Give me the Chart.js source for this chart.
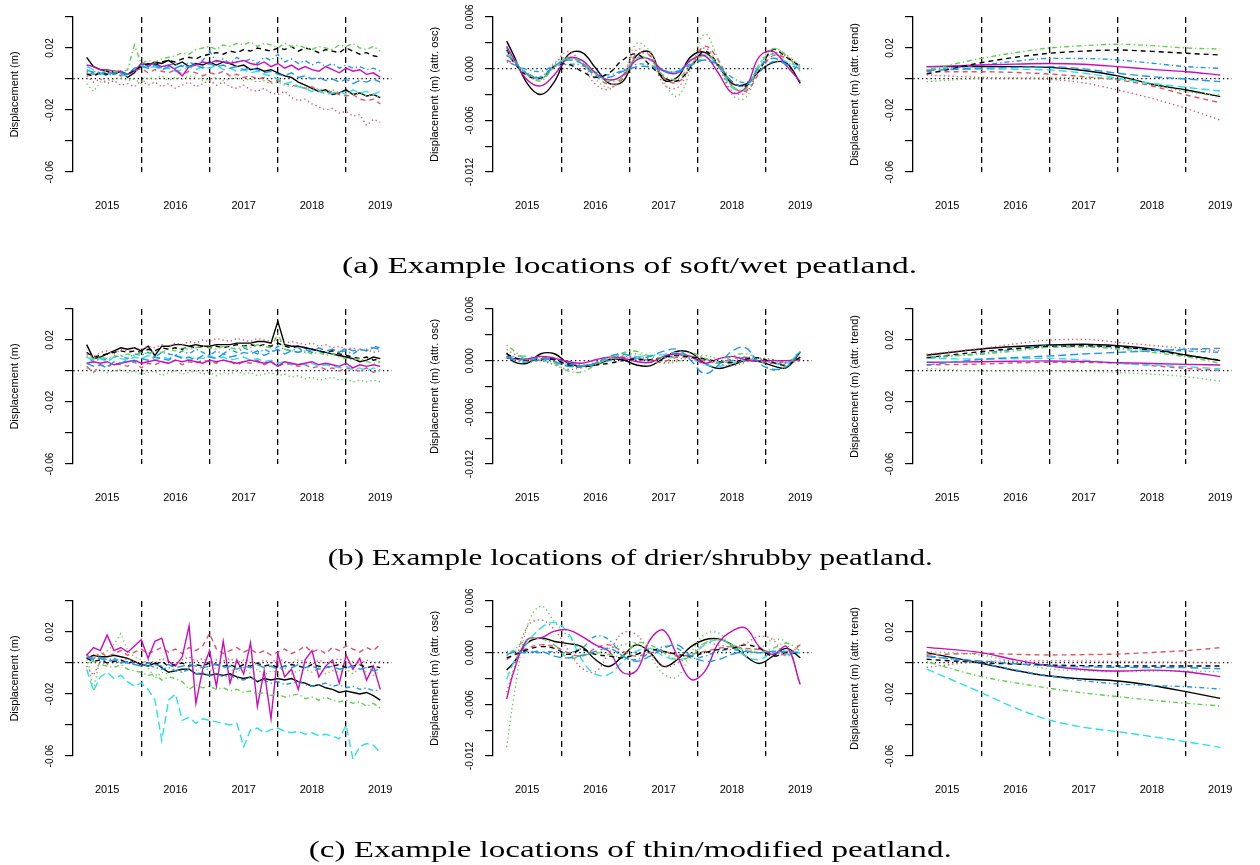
<!DOCTYPE html>
<html>
<head>
<meta charset="utf-8">
<title>Example peatland displacement series</title>
<script src="https://cdn.jsdelivr.net/npm/chart.js"></script>
<style>
    body {
        margin: 0;
        background: #fff;
    }
    #figure {
        position: relative;
        width: 1260px;
        height: 865px;
        overflow: hidden;
        background: #fff;
    }
    .panel {
        position: absolute;
    }
    .caption {
        position: absolute;
        left: 0;
        width: 1260px;
        text-align: center;
        font-family: 'Liberation Serif', 'DejaVu Serif', serif;
        font-size: 24px;
        line-height: 30px;
        color: #000;
    }
    .caption span {
        display: inline-block;
        white-space: nowrap;
        transform-origin: 50% 50%;
    }
</style>
</head>
<body>
<div id="figure"></div>
<script>
// time axes (decimal years)
const rawTimes = [2014.7, 2014.8, 2014.9, 2015.0, 2015.1, 2015.2, 2015.3, 2015.4, 2015.5, 2015.6,
    2015.7, 2015.8, 2015.9, 2016.0, 2016.1, 2016.2, 2016.3, 2016.4, 2016.5, 2016.6,
    2016.7, 2016.8, 2016.9, 2017.0, 2017.1, 2017.2, 2017.3, 2017.4, 2017.5, 2017.6,
    2017.7, 2017.8, 2017.9, 2018.0, 2018.1, 2018.2, 2018.3, 2018.4, 2018.5, 2018.6,
    2018.7, 2018.8, 2018.9, 2019.0];
const oscTimes = [2014.7, 2014.8, 2015.0, 2015.2, 2015.4, 2015.6, 2015.8, 2016.0, 2016.2, 2016.4,
    2016.6, 2016.8, 2017.0, 2017.2, 2017.4, 2017.6, 2017.8, 2018.0, 2018.2, 2018.4,
    2018.6, 2018.8, 2019.0];
const trendTimes = [2014.7, 2015.5, 2016.0, 2016.5, 2017.0, 2017.5, 2018.0, 2018.5, 2019.0];

// tick labels
const yearTicks = [2015, 2015.5, 2016, 2016.5, 2017, 2017.5, 2018, 2018.5, 2019];
const yearLabels = ['2015', '', '2016', '', '2017', '', '2018', '', '2019'];
const yearBreaks = [2015.5, 2016.5, 2017.5, 2018.5];
const dispTicks = [-60, -40, -20, 0, 20, 40];            // mm
const dispTickLabels = ['-0.06', '', '-0.02', '', '0.02', ''];
const oscTicks = [-12, -9, -6, -3, 0, 3, 6];             // mm
const oscTickLabels = ['-0.012', '', '-0.006', '', '0.000', '', '0.006'];

// row (a) soft/wet peatland, displacement in mm
const r1Black = [14, 8, 6, 5, 3, 5, 1, 4, 10, 9, 11, 10, 12, 9, 11, 8, 10, 9, 11, 9, 11, 10, 8, 9, 6, 7, 5, 6, 4, 2, 1, -2, -4, -6, -8, -7, -10, -9, -7, -10, -9, -11, -10, -12];
const r1RedDash = [4, 2, 5, 3, 4, 2, 3, 5, 7, 4, 6, 5, 4, 6, 3, 5, 4, 2, 4, 3, 5, 2, 3, 1, 2, 0, 1, -2, -1, -3, -4, -5, -6, -5, -8, -9, -8, -10, -11, -10, -13, -14, -13, -16];
const r1GreenDot = [-3, -8, -2, -1, 0, 1, -1, 0, -3, 1, 0, 2, -1, 1, 0, 2, 1, -1, 0, 1, -1, 0, 1, -1, 0, -2, -1, -3, -2, -4, -5, -4, -6, -7, -6, -8, -7, -9, -8, -10, -9, -11, -10, -12];
const r1BlueDotdash = [5, 3, 4, 2, 4, 5, 3, 6, 9, 8, 10, 7, 9, 10, 8, 11, 9, 12, 18, 11, 13, 10, 14, 11, 13, 10, 14, 12, 16, 11, 13, 10, 12, 9, 11, 8, 10, 7, 9, 7, 8, 6, 7, 5];
const r1Cyan = [8, 6, 4, 3, 5, 3, 2, 6, 9, 7, 8, 6, 7, 5, 6, 8, 6, 8, 7, 9, 6, 7, 5, 6, 4, 5, 3, 2, 0, -3, -2, -5, -6, -8, -7, -10, -9, -8, -10, -7, -9, -8, -10, -8];
const r1Magenta = [9, 8, 6, 6, 5, 5, 3, 5, 10, 9, 10, 8, 9, 6, 2, 8, 9, 11, 10, 12, 11, 10, 11, 12, 10, 9, 11, 8, 10, 7, 9, 6, 8, 6, 5, 8, 6, 4, 7, 5, 6, 3, 4, 1];
const r1BlackDash = [3, 2, 4, 3, 5, 4, 3, 6, 8, 10, 9, 11, 12, 11, 13, 14, 13, 15, 16, 17, 16, 18, 17, 19, 18, 20, 19, 18, 20, 19, 21, 18, 20, 19, 17, 19, 18, 17, 20, 18, 16, 17, 15, 14];
const r1RedDot = [2, -2, 0, -3, -1, -4, -3, -5, -1, -4, -2, -5, -3, -6, -4, -2, -5, -3, -1, -4, -2, -5, -6, -4, -7, -8, -6, -9, -10, -8, -12, -14, -13, -16, -18, -20, -19, -22, -21, -24, -23, -30, -26, -28];
const r1GreenDotdash = [4, 5, 3, 6, 5, 4, 6, 22, 10, 12, 11, 13, 14, 15, 17, 16, 19, 20, 21, 19, 22, 21, 23, 22, 24, 21, 23, 22, 20, 23, 21, 22, 20, 19, 21, 20, 19, 22, 21, 23, 20, 19, 21, 18];
const r1BlueLong = [6, 4, 3, 5, 3, 4, 3, 7, 8, 7, 9, 6, 8, 7, 9, 8, 9, 7, 10, 8, 9, 7, 8, 6, 7, 6, 4, 5, 3, 2, 4, 1, 2, 0, 1, -1, 0, -2, 0, -3, -1, -2, 0, -2];

const o1Black = [3.2, 1.6, -1.7, -3.0, -1.5, 1.6, 1.9, 0.1, -1.7, -1.5, 1.5, 1.9, -1.3, -1.0, 1.4, 1.9, 0.3, -1.7, -1.8, -0.3, 0.7, 0.65, -1.7];
const o1RedDash = [1.0, 0.6, -0.5, -1.1, 0.2, 1.3, 0.7, -0.8, -1.8, -1.2, 1.7, 1.5, -1.0, -1.6, 0.3, 2.6, 1.0, -2.0, -2.6, -0.5, 1.5, 1.2, 0.2];
const o1GreenDot = [2.5, 1.0, -0.5, -0.9, 0.7, 1.3, 0.5, -1.2, -2.2, -1.0, 2.9, 2.0, -1.5, -3.2, 0.0, 4.0, 1.0, -3.0, -3.4, 0.5, 2.3, 1.6, 0.2];
const o1BlueDotdash = [0.8, 0.5, -0.1, -0.3, 0.3, 0.5, 0.4, -0.4, -0.7, -0.2, 0.5, 0.4, -0.2, -0.3, 0.6, 1.0, 0.3, -1.0, -1.6, -0.3, 0.8, 0.6, 0.4];
const o1Cyan = [2.4, 1.2, -0.6, -1.2, 0.3, 1.2, 1.0, -0.5, -1.3, -0.8, 1.2, 1.0, -0.2, -0.3, 1.0, 1.6, 0.4, -2.2, -2.3, 0.5, 1.7, 0.8, 0.3];
const o1Magenta = [2.6, 1.2, -1.3, -2.0, -0.7, 1.2, 1.0, -0.5, -1.3, -0.8, 1.0, 1.1, -0.3, -0.5, 1.0, 1.5, -0.5, -2.8, -2.2, 1.4, 2.0, 0.3, -1.5];
const o1BlackDash = [2.2, 0.8, -0.8, -1.1, 0.3, 0.5, -0.3, -1.0, -0.5, 1.0, 1.7, 0.4, -1.0, -1.4, 0.2, 2.0, 0.5, -1.5, -2.0, -0.2, 2.2, 1.3, 0.3];
const o1RedDot = [1.5, 0.8, -0.8, -1.2, 0.5, 2.0, 0.5, -1.8, -2.4, -0.8, 2.2, 1.5, -1.8, -2.2, 0.3, 2.4, 0.3, -2.6, -2.8, 0.0, 1.8, 1.4, 0.4];
const o1GreenDotdash = [2.0, 1.0, -0.7, -1.4, 0.2, 1.2, 0.8, -0.6, -1.5, -1.0, 1.3, 1.0, -0.8, -1.2, 0.5, 1.5, 0.5, -2.0, -2.4, 0.2, 2.3, 1.5, -0.3];
const o1BlueLong = [1.6, 0.9, -0.6, -1.0, 0.3, 1.0, 0.6, -0.8, -1.0, -0.3, 0.2, 0.2, -0.3, -0.4, 0.4, 1.0, 0.4, -1.5, -2.0, 0.2, 1.2, 0.5, 0.0];

const t1Black = [8.0, 8.0, 8.0, 7.5, 5.5, 2.0, -3.4, -7.1, -11.4];
const t1RedDash = [4.7, 4.7, 4.2, 3.2, 1.5, -0.6, -4.5, -10.3, -15.3];
const t1GreenDot = [-1.7, 0.4, 0.8, 1.0, 0.8, -0.2, -3.5, -8.2, -10.3];
const t1BlueDotdash = [5.8, 9.0, 11.5, 13.3, 13.2, 12.3, 10.2, 8.0, 6.9];
const t1Cyan = [6.0, 6.5, 6.3, 5.8, 3.8, 0.4, -2.8, -5.4, -7.7];
const t1Magenta = [8.0, 9.0, 9.6, 10.0, 9.5, 8.0, 6.2, 4.7, 2.6];
const t1BlackDash = [3.2, 10.5, 14.0, 16.6, 18.0, 18.7, 17.8, 16.6, 15.5];
const t1RedDot = [2.6, 1.0, 0.5, -0.2, -2.5, -7.1, -12.5, -19.0, -26.5];
const t1GreenDotdash = [5.8, 13.3, 17.0, 20.0, 21.5, 22.4, 21.5, 20.0, 19.4];
const t1BlueLong = [5.4, 6.9, 7.5, 8.0, 6.5, 3.7, 1.5, 0.0, -1.7];

// row (b) drier/shrubby peatland
const r2Black = [17, 8, 9, 11, 13, 15, 14, 15, 13, 16, 10, 16, 16, 17, 17, 16, 17, 16, 16, 17, 17, 17, 18, 18, 18, 19, 19, 18, 32, 17, 16, 16, 15, 14, 13, 12, 11, 10, 9, 8, 6, 7, 9, 8];
const r2RedDash = [3, -1, 4, 3, 5, 4, 3, 6, 2, 5, 4, 6, 5, 7, 4, 6, 5, 7, 6, 5, 7, 6, 4, 6, 5, 7, 4, 6, 3, 5, 4, 3, 4, 2, 3, 1, 2, 0, 2, 1, 0, 2, -1, 1];
const r2GreenDot = [2, 0, 1, -1, 0, 1, -1, 0, -2, -1, 0, -3, -1, 0, -2, -1, 0, -2, -1, -3, -1, -2, 0, -2, -1, -3, -2, -1, -3, -2, -4, -3, -5, -4, -6, -5, -4, -6, -5, -7, -6, -7, -6, -7];
const r2BlueDotdash = [9, 6, 8, 7, 9, 10, 8, 11, 10, 12, 9, 12, 11, 10, 13, 11, 14, 12, 10, 13, 11, 14, 12, 15, 13, 11, 14, 12, 16, 14, 13, 15, 12, 14, 13, 11, 14, 12, 13, 11, 14, 13, 16, 15];
const r2Cyan = [9, 7, 8, 6, 9, 8, 7, 9, 8, 10, 7, 9, 8, 10, 9, 7, 9, 8, 10, 8, 9, 7, 8, 9, 7, 8, 6, 7, 5, 6, 4, 5, 4, 5, 3, 4, 3, 2, 3, 1, 2, 0, 2, 0];
const r2Magenta = [5, 6, 5, 6, 4, 5, 6, 7, 5, 6, 7, 6, 5, 7, 6, 7, 6, 5, 7, 6, 7, 6, 5, 6, 7, 6, 5, 6, 3, 6, 5, 4, 5, 6, 4, 5, 4, 3, 5, 2, 4, 3, 4, 3];
const r2BlackDash = [12, 9, 10, 11, 12, 13, 12, 13, 12, 14, 13, 15, 14, 15, 14, 16, 15, 16, 15, 16, 15, 16, 17, 16, 17, 16, 17, 16, 18, 16, 15, 16, 15, 14, 13, 12, 13, 11, 10, 9, 8, 9, 7, 8];
const r2RedDot = [11, 9, 12, 13, 11, 14, 13, 15, 14, 16, 15, 17, 16, 18, 17, 19, 18, 20, 19, 21, 20, 19, 21, 20, 19, 21, 20, 19, 20, 18, 19, 18, 17, 18, 16, 17, 15, 16, 14, 15, 13, 14, 12, 13];
const r2GreenDotdash = [10, 8, 9, 8, 10, 9, 11, 10, 12, 11, 13, 12, 14, 13, 15, 14, 15, 16, 15, 14, 16, 15, 14, 16, 15, 17, 16, 15, 24, 14, 13, 12, 13, 11, 12, 10, 11, 9, 8, 7, 8, 6, 5, 6];
const r2BlueLong = [5, 3, 4, 2, 6, 5, 7, 6, 8, 7, 9, 8, 7, 10, 8, 9, 7, 10, 9, 8, 11, 9, 10, 12, 11, 13, 10, 12, 14, 11, 13, 12, 14, 12, 15, 13, 14, 12, 15, 13, 14, 13, 15, 14];

const o2Black = [0.9, -0.1, -0.3, 0.8, 0.8, -0.3, -0.65, -0.5, 0.1, 0.1, -0.5, -0.6, 0.3, 1.1, 0.9, -0.3, -0.9, -0.5, 0.0, -0.1, -0.6, -0.8, 1.0];
const o2RedDash = [0.5, 0.3, 0.1, 0.4, 0.2, -0.5, -0.6, -0.3, 0.2, 0.4, 0.2, -0.2, -0.1, 0.4, 0.3, 0.0, -0.3, 0.2, 0.4, 0.0, -0.3, -0.1, 0.3];
const o2GreenDot = [0.5, 0.2, -0.1, 0.2, 0.3, -0.4, -0.8, -0.3, 0.2, 0.6, 0.8, 0.3, -0.3, -0.1, 0.4, 0.6, 0.2, -0.3, -0.1, 0.2, 0.1, -0.2, 0.0];
const o2BlueDotdash = [0.4, 0.1, -0.2, 0.1, 0.2, -0.2, -0.5, -0.4, 0.0, 0.3, 0.2, 0.1, 0.3, 0.6, 0.5, 0.2, -0.2, 0.0, 0.4, 0.2, -0.2, -0.3, 0.4];
const o2Cyan = [0.3, 0.5, 0.5, 0.1, -0.3, -0.45, -0.65, -0.4, 0.3, 0.7, 0.5, 0.6, 0.7, 0.9, 0.3, -0.45, -0.65, -0.3, 0.1, 0.3, -0.3, -0.3, 1.1];
const o2Magenta = [0.3, 0.25, 0.2, 0.5, 0.3, -0.1, -0.3, 0.1, 0.4, 0.3, -0.1, -0.2, 0.5, 0.8, 0.5, -0.3, 0.2, 0.5, 0.1, 0.0, 0.0, 0.0, 0.1];
const o2BlackDash = [0.8, 0.4, 0.0, 0.2, 0.1, -0.5, -0.7, -0.5, -0.3, 0.0, 0.2, 0.1, 0.4, 0.6, 0.4, 0.2, -0.1, -0.2, 0.2, 0.3, -0.2, -0.5, 0.4];
const o2RedDot = [1.3, 0.8, 0.2, 0.0, -0.5, -1.0, -0.8, -0.2, 0.3, 0.5, 0.4, 0.2, -0.2, 0.1, 0.5, 0.3, -0.3, -0.6, -0.2, 0.3, 0.1, -0.2, 0.0];
const o2GreenDotdash = [1.8, 1.2, 0.1, 0.3, -0.3, -1.2, -1.3, -0.5, 0.3, 0.9, 1.1, 0.5, 0.3, 0.5, 0.9, 0.3, -0.3, 0.5, 0.8, 0.1, -1.1, -0.5, 1.1];
const o2BlueLong = [0.5, 0.2, 0.1, 0.3, -0.1, -0.65, -0.65, -0.3, 0.5, 0.8, 0.3, 0.5, 1.1, 1.3, 0.0, -1.5, -0.5, 1.1, 1.5, -0.3, -1.0, -0.7, 1.1];

const t2Black = [10.3, 14.2, 15.8, 16.8, 17.3, 16.3, 14.2, 10.3, 6.7];
const t2RedDash = [3.9, 4.5, 5.2, 5.6, 5.5, 5.0, 3.5, 1.7, 0.4];
const t2GreenDot = [1.7, 0.0, 0.0, 0.0, -0.3, -0.9, -2.0, -3.7, -6.5];
const t2BlueDotdash = [8.2, 11.4, 14.0, 16.3, 16.0, 15.0, 14.0, 12.9, 12.0];
const t2Cyan = [8.2, 7.7, 8.0, 8.2, 7.0, 5.0, 3.8, 2.8, 1.3];
const t2Magenta = [5.6, 6.0, 6.3, 6.5, 6.2, 5.4, 4.8, 4.3, 3.9];
const t2BlackDash = [8.6, 12.5, 14.5, 15.8, 16.2, 15.5, 13.5, 10.0, 7.0];
const t2RedDot = [10.8, 14.6, 17.5, 20.0, 20.4, 18.5, 16.5, 14.6, 12.9];
const t2GreenDotdash = [9.2, 10.8, 13.0, 15.3, 15.5, 14.2, 12.0, 9.2, 5.0];
const t2BlueLong = [3.9, 7.5, 8.7, 9.7, 11.0, 12.0, 13.0, 14.0, 14.6];

// row (c) thin/modified peatland
const r3Black = [3, 5, 4, 4, 5, 4, 3, 1, -1, -2, 0, -3, -6, -5, -4, -4, -7, -7, -8, -7, -8, -7, -9, -10, -9, -12, -10, -11, -10, -11, -10, -12, -13, -15, -14, -16, -17, -19, -18, -19, -20, -19, -21, -24];
const r3RedDash = [5, 3, 7, 4, 6, 8, 5, 7, 9, 6, 8, 10, 7, 9, 6, 10, 8, 11, 19, 9, 6, 8, 10, 7, 9, 6, 8, 5, 7, 9, 6, 8, 11, 7, 9, 6, 10, 8, 11, 9, 7, 10, 8, 12];
const r3GreenDot = [6, -18, 5, 8, 12, 19, 8, 4, 2, -3, -10, -6, -7, -4, -6, -3, -5, -2, -5, -3, 2, -4, -6, -3, -7, -4, -8, -5, -6, -3, -7, -5, -4, -6, -3, -7, -5, -6, -4, -7, -3, -6, -8, -5];
const r3BlueDotdash = [5, 3, 4, 2, 3, 1, 0, -1, -2, -1, -3, -4, -3, -5, -6, -4, -7, -6, -8, -7, -9, -8, -10, -11, -9, -12, -11, -13, -12, -14, -13, -12, -14, -15, -14, -13, -15, -14, -16, -15, -17, -16, -18, -17];
const r3Cyan = [-4, -18, -9, -6, -10, -8, -12, -15, -13, -17, -24, -50, -24, -20, -37, -35, -39, -36, -37, -38, -39, -40, -39, -54, -43, -42, -45, -43, -42, -44, -45, -44, -46, -45, -47, -46, -47, -49, -40, -62, -54, -52, -53, -58];
const r3Magenta = [5, 10, 8, 18, 8, 10, 7, 11, 15, 3, 14, 16, 1, -2, 4, 24, -26, -4, 8, -15, 14, -13, 2, -7, 13, -28, -5, -36, 6, -9, -4, -17, 2, 8, -9, -2, 2, -13, 5, -4, 3, -11, -2, -17];
const r3BlackDash = [3, 1, 2, 0, 1, 2, 0, 1, -1, 0, -1, 1, -2, -1, 0, -2, -1, -2, 0, -1, -2, -1, -3, -1, -2, 0, -2, -1, -3, -2, -1, -2, -3, -1, -2, -3, -2, -1, -3, -2, -1, -3, -2, -3];
const r3RedDot = [-2, -8, 1, -1, 2, 0, 3, 1, -1, 2, 0, 3, 1, -1, 2, 4, 1, 3, 0, 2, 1, 3, 0, 2, 1, -1, 2, 0, 3, 1, 0, 2, 1, -1, 2, 0, 1, 3, 0, 1, -1, 2, 0, 1];
const r3GreenDotdash = [2, 1, -1, -2, -3, -1, -4, -5, -6, -8, -7, -11, -9, -10, -12, -17, -14, -16, -15, -17, -16, -18, -17, -19, -18, -20, -19, -21, -20, -22, -21, -20, -23, -22, -24, -22, -24, -25, -24, -26, -25, -28, -26, -29];
const r3BlueLong = [4, 2, 3, 1, 2, 0, 1, -1, -2, 0, -1, -2, -1, -3, -2, -1, -2, -3, -2, -1, -3, -2, -4, -2, -3, -1, -3, -2, -4, -2, -3, -1, -3, -2, -4, -3, -2, -4, -3, -2, -4, -3, -5, -4];

const o3Black = [-2.0, -1.2, 1.1, 1.7, 1.3, 1.05, 0.7, -0.8, -1.6, -0.4, 0.9, 0.0, -1.6, -0.8, 0.7, 1.5, 1.6, 0.9, -0.4, -1.25, -0.4, 0.5, -0.6];
const o3RedDash = [-0.8, -0.3, 0.5, 0.9, 0.7, 0.0, -0.4, 0.5, 0.9, 0.15, -0.4, 0.0, 0.15, -0.4, -0.2, 0.15, 0.5, 0.7, 0.5, 0.35, 0.0, -0.2, 0.9];
const o3GreenDot = [-11, -5.4, 3.0, 5.4, 3.6, 1.9, 0.35, 0.0, 0.5, 0.9, 1.1, -0.4, -2.5, -2.8, 0.0, 2.1, 2.3, 0.7, 0.3, 0.5, 1.5, 1.1, -3.9];
const o3BlueDotdash = [0.15, 0.15, 0.15, 0.0, 0.15, 0.0, 0.5, 1.9, 1.5, -0.4, -0.8, 0.0, 0.7, 0.5, -0.6, -0.4, 0.15, 0.35, 0.15, 0.0, 0.15, 0.15, 0.0];
const o3Cyan = [-3.1, -1.2, 1.1, 2.85, 3.5, 2.3, -0.8, -2.5, -2.5, -1.0, 0.15, 0.5, -0.4, -0.8, -0.4, 0.9, 1.5, 0.9, -0.4, -0.8, 0.0, -0.2, 0.0];
const o3Magenta = [-5.4, -2.3, 1.5, 1.7, 2.5, 2.65, 1.9, 0.9, 0.15, -2.3, -2.1, 1.5, 2.6, -0.4, -3.1, -2.2, 1.1, 2.5, 2.85, 0.7, -0.2, 0.7, -3.7];
const o3BlackDash = [-0.6, -0.3, 0.35, 0.7, 0.5, -0.2, 0.35, -0.2, -0.4, -0.6, -0.2, 0.35, 0.15, -0.2, -0.4, 0.0, 0.35, 0.5, 0.9, 0.5, -0.4, 0.0, -0.2];
const o3RedDot = [-4.6, -2.0, 3.0, 3.8, 2.65, 0.35, -1.8, -2.2, 0.0, 2.3, 2.1, 0.0, -1.6, -1.2, -0.2, 1.1, 0.9, 0.7, 1.1, 1.9, 1.5, -0.4, 1.1];
const o3GreenDotdash = [-0.4, 0.3, 1.5, 1.6, 0.9, -0.6, -0.4, 0.0, -0.2, -0.4, 1.1, 0.9, 0.0, -0.8, -0.4, 1.1, 1.5, 0.9, 0.3, 0.0, 0.5, 1.1, 0.2];
const o3BlueLong = [-0.2, 0.0, 0.0, 0.15, -0.4, -0.6, -0.3, 0.15, 0.5, -0.4, -1.0, -0.4, 0.5, 0.9, -0.4, -1.0, -0.8, -0.2, 0.15, 0.0, 0.15, 0.1, 0.0];

const t3Black = [6.7, -0.2, -4.8, -8.4, -10.3, -11.6, -14.5, -18.5, -22.8];
const t3RedDash = [5.2, 6.2, 5.6, 5.2, 5.4, 5.8, 6.8, 8.0, 9.9];
const t3GreenDot = [7.3, 5.2, 0.5, -3.9, -5.0, -5.6, -5.3, -5.2, -5.6];
const t3BlueDotdash = [4.7, -0.2, -4.5, -8.4, -11.5, -13.5, -14.5, -15.3, -16.8];
const t3Cyan = [-3.9, -19.1, -29.0, -36.8, -41.5, -44.3, -47.5, -50.8, -54.4];
const t3Magenta = [10.1, 6.7, 2.0, -1.9, -4.2, -5.2, -4.6, -5.6, -8.8];
const t3BlackDash = [2.4, 0.2, -0.7, -1.3, -1.7, -1.9, -1.9, -1.9, -1.9];
const t3RedDot = [-2.8, 0.9, 1.3, 1.5, 1.3, 1.0, 0.7, 0.5, 0.2];
const t3GreenDotdash = [0.9, -8.8, -12.8, -16.3, -19.3, -21.7, -24.0, -26.0, -27.7];
const t3BlueLong = [4.1, 1.3, -0.5, -1.9, -2.5, -2.8, -2.9, -3.0, -3.7];

const captions = [
    '(a) Example locations of soft/wet peatland.',
    '(b) Example locations of drier/shrubby peatland.',
    '(c) Example locations of thin/modified peatland.'
];

// matplot style cycle: col 1:6, lty 1:5
const seriesColors = ['#000000', '#DF536B', '#61D04F', '#2297E6', '#28E2E5', '#CD0BBC', '#000000', '#DF536B', '#61D04F', '#2297E6'];
const seriesDashes = [[], [5, 4], [1.3, 3], [1.3, 3, 5, 3], [8, 4], [], [5, 4], [1.3, 3], [1.3, 3, 5, 3], [8, 4]];

const rows = [
    {
        raw: [r1Black, r1RedDash, r1GreenDot, r1BlueDotdash, r1Cyan, r1Magenta, r1BlackDash, r1RedDot, r1GreenDotdash, r1BlueLong],
        osc: [o1Black, o1RedDash, o1GreenDot, o1BlueDotdash, o1Cyan, o1Magenta, o1BlackDash, o1RedDot, o1GreenDotdash, o1BlueLong],
        trend: [t1Black, t1RedDash, t1GreenDot, t1BlueDotdash, t1Cyan, t1Magenta, t1BlackDash, t1RedDot, t1GreenDotdash, t1BlueLong]
    },
    {
        raw: [r2Black, r2RedDash, r2GreenDot, r2BlueDotdash, r2Cyan, r2Magenta, r2BlackDash, r2RedDot, r2GreenDotdash, r2BlueLong],
        osc: [o2Black, o2RedDash, o2GreenDot, o2BlueDotdash, o2Cyan, o2Magenta, o2BlackDash, o2RedDot, o2GreenDotdash, o2BlueLong],
        trend: [t2Black, t2RedDash, t2GreenDot, t2BlueDotdash, t2Cyan, t2Magenta, t2BlackDash, t2RedDot, t2GreenDotdash, t2BlueLong]
    },
    {
        raw: [r3Black, r3RedDash, r3GreenDot, r3BlueDotdash, r3Cyan, r3Magenta, r3BlackDash, r3RedDot, r3GreenDotdash, r3BlueLong],
        osc: [o3Black, o3RedDash, o3GreenDot, o3BlueDotdash, o3Cyan, o3Magenta, o3BlackDash, o3RedDot, o3GreenDotdash, o3BlueLong],
        trend: [t3Black, t3RedDash, t3GreenDot, t3BlueDotdash, t3Cyan, t3Magenta, t3BlackDash, t3RedDot, t3GreenDotdash, t3BlueLong]
    }
];

const panelWidth = 420;
const panelHeight = 292;
const figure = document.getElementById('figure');

Chart.defaults.font.family = "'Liberation Sans', Arial, Helvetica, sans-serif";
Chart.defaults.color = '#000';

function createPanel(row, col, kind, times, series) {
    const canvas = document.createElement('canvas');
    canvas.width = panelWidth;
    canvas.height = panelHeight;
    canvas.className = 'panel';
    canvas.style.left = (col * panelWidth) + 'px';
    canvas.style.top = (row * panelHeight) + 'px';
    figure.appendChild(canvas);

    const isOsc = kind === 'osc';
    const yTicks = isOsc ? oscTicks : dispTicks;
    const yTickLabels = isOsc ? oscTickLabels : dispTickLabels;
    const yTitle = {
        raw: 'Displacement (m)',
        osc: 'Displacement (m) (attr. osc)',
        trend: 'Displacement (m) (attr. trend)'
    }[kind];

    // first column drawn first, so reverse (Chart.js paints dataset 0 on top)
    const datasets = series.map((values, i) => ({
        data: values.map((v, j) => ({ x: times[j], y: v })),
        borderColor: seriesColors[i],
        borderDash: seriesDashes[i],
        borderWidth: 1.4,
        pointRadius: 0,
        fill: false,
        tension: kind === 'raw' ? 0 : 0.4,
        cubicInterpolationMode: kind === 'trend' ? 'monotone' : 'default',
        clip: 12
    })).reverse();

    new Chart(canvas, {
        type: 'line',
        data: { datasets: datasets },
        options: {
            responsive: false,
            animation: false,
            events: [],
            layout: { padding: { top: 17, right: 14, bottom: 0, left: 0 } },
            plugins: {
                legend: { display: false },
                tooltip: { enabled: false }
            },
            scales: {
                x: {
                    type: 'linear',
                    min: 2014.5,
                    max: 2019.17,
                    afterBuildTicks: scale => { scale.ticks = yearTicks.map(v => ({ value: v })); },
                    afterFit: scale => { scale.height = 120; },
                    border: { display: false, dash: [6, 4] },
                    grid: {
                        color: ctx => (ctx.tick && yearBreaks.includes(ctx.tick.value)) ? '#000' : 'rgba(0,0,0,0)',
                        lineWidth: 1.3,
                        drawTicks: false
                    },
                    ticks: {
                        autoSkip: false,
                        maxRotation: 0,
                        padding: 27,
                        color: '#000',
                        font: { size: 11 },
                        callback: (value, index) => yearLabels[index]
                    }
                },
                y: {
                    min: isOsc ? -12 : -60,
                    max: isOsc ? 6 : 40,
                    afterBuildTicks: scale => { scale.ticks = yTicks.map(v => ({ value: v })); },
                    afterFit: scale => { scale.width = 73; },
                    border: {
                        display: true,
                        color: '#000',
                        width: 1.3,
                        dash: ctx => ctx.type === 'tick' ? [1.3, 3] : []
                    },
                    grid: {
                        color: ctx => (ctx.tick && ctx.tick.value === 0) ? '#000' : 'rgba(0,0,0,0)',
                        lineWidth: 1.2,
                        tickColor: '#000',
                        tickWidth: 1.2,
                        tickLength: 8
                    },
                    ticks: {
                        autoSkip: false,
                        minRotation: 90,
                        maxRotation: 90,
                        crossAlign: 'center',
                        padding: isOsc ? 1 : 3,
                        color: '#000',
                        font: { size: 10 },
                        callback: (value, index) => yTickLabels[index]
                    },
                    title: {
                        display: true,
                        text: yTitle,
                        color: '#000',
                        font: { size: 11 },
                        padding: { top: 8, bottom: 0 }
                    }
                }
            }
        }
    });
}

rows.forEach((row, r) => {
    createPanel(r, 0, 'raw', rawTimes, row.raw);
    createPanel(r, 1, 'osc', oscTimes, row.osc);
    createPanel(r, 2, 'trend', trendTimes, row.trend);
});

// captions, stretched to the widths of the typeset originals
const captionWidths = [575, 605, 643];
captions.forEach((text, r) => {
    const div = document.createElement('div');
    div.className = 'caption';
    div.style.top = (r * panelHeight + 250) + 'px';
    const span = document.createElement('span');
    span.textContent = text;
    div.appendChild(span);
    figure.appendChild(div);
    const w = span.getBoundingClientRect().width;
    span.style.transform = 'scaleX(' + (captionWidths[r] / w).toFixed(3) + ')';
});
</script>
</body>
</html>
